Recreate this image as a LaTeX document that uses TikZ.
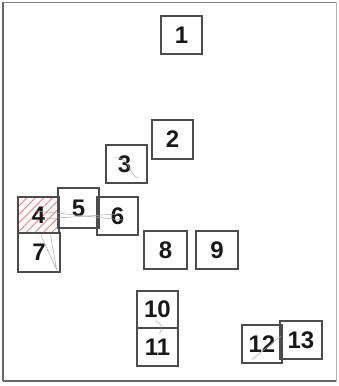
\documentclass[tikz,border=0pt]{standalone}
\usepackage{fontspec}
\setmainfont{Liberation Sans}
\usetikzlibrary{patterns.meta}
\begin{document}
\begin{tikzpicture}[x=1pt,y=-1pt,
  numbox/.style={draw=black!70, line width=1.2pt, minimum width=41pt, minimum height=38pt,
    inner sep=0pt, font=\fontsize{24}{24}\selectfont\bfseries, text=black!90},
  faint/.style={draw=black!35, line width=0.5pt}]
\useasboundingbox (0,0) rectangle (338,386);
\draw[black!30, line width=1pt] (3,2) rectangle (336,381);
\draw[black!60, line width=1.5pt] (3,381) -- (336,381);
\draw[black!60, line width=1.5pt] (3,2) -- (3,381);
\draw[black!50, line width=1pt] (3,2) -- (336,2);
% hatched box 4
\fill[pattern={Lines[angle=45,distance=6pt,line width=0.8pt]}, pattern color=red!55] (18,197) rectangle (59,233);
\node[numbox] (n1) at (181.5,35) {1};
\node[numbox, minimum height=39pt] (n2) at (172.5,139.5) {2};
\node[numbox] (n3) at (126.5,164) {\hspace*{-4pt}3};
\node[numbox, minimum height=36pt] (n4) at (38.5,215) {4};
\node[numbox, minimum height=40pt] (n5) at (78.5,208) {5};
\node[numbox] (n6) at (117.5,216) {6};
\node[numbox, minimum width=42pt, minimum height=39pt] (n7) at (39,252.5) {7};
\node[numbox, minimum width=43pt] (n8) at (165.5,250) {8};
\node[numbox, minimum width=42pt] (n9) at (217,250) {9};
\node[numbox, minimum height=37pt] (n10) at (157.5,309.5) {10};
\node[numbox] (n11) at (157.5,347) {11};
\node[numbox, minimum width=40pt] (n12) at (262,344) {12};
\node[numbox, minimum width=42pt] (n13) at (301,340) {13};
% faint sketch lines
\draw[faint] ([xshift=-2pt,yshift=4pt]n4.center) -- ([xshift=6pt,yshift=-4pt]n6.center);
\draw[faint] ([xshift=4pt,yshift=-4pt]n4.center) -- ([xshift=0pt,yshift=2pt]n6.center);
\draw[faint] ([xshift=2pt,yshift=-3pt]n7.north) -- ([xshift=-4pt,yshift=3pt]n7.south east) -- ([xshift=-10pt,yshift=-3pt]n7.north east);
\draw[faint] ([xshift=-12pt,yshift=6pt]n3.center) .. controls ([xshift=4pt,yshift=8pt]n3.center) and ([xshift=2pt,yshift=-12pt]n3.center) .. ([xshift=12pt,yshift=-14pt]n3.center);
\draw[faint] ([xshift=-2pt,yshift=8pt]n10.south) .. controls ([xshift=6pt,yshift=2pt]n10.south) .. ([xshift=2pt,yshift=-6pt]n11.north);
\draw[faint] ([xshift=-10pt,yshift=4pt]n12.south) -- ([xshift=-2pt,yshift=-12pt]n12.north east);
\end{tikzpicture}
\end{document}
